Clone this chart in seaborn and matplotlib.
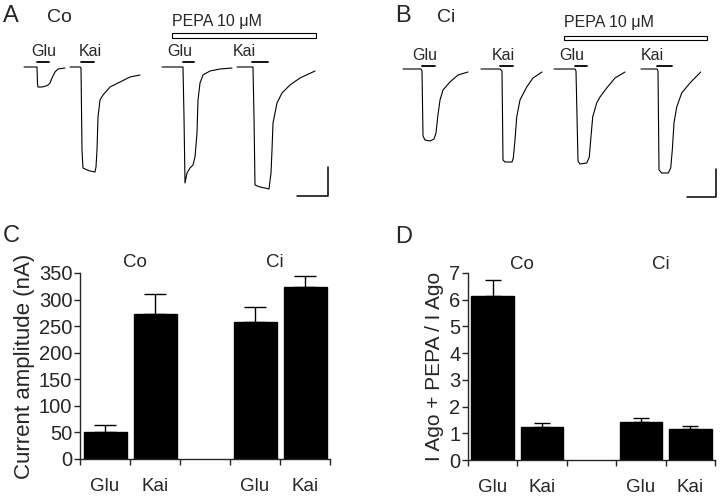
"""
Co / Ci kainate receptor currents with PEPA: traces (A, B) and bar summaries (C, D)
"""
import numpy as np
import pandas as pd
import matplotlib
matplotlib.use('Agg')
import matplotlib.pyplot as plt
from matplotlib.patches import Rectangle
import seaborn as sns

# ==================== 数据 ====================
# A: Co traces, time (s) and current (nA)
a_glu_t = [2.4, 3.7, 3.75, 3.8, 4.2, 4.6, 4.8, 5.0, 5.2, 5.5, 5.8, 6.5]
a_glu_i = [0, 0, -51, -60, -60, -57, -54, -48, -33, -15, -6, -3]
a_kai_t = [7.0, 8.0, 8.1, 8.2, 8.3, 8.5, 9.0, 9.5, 9.6, 9.7, 9.8, 10.0, 10.3, 11.0, 12.0, 13.0, 14.0]
a_kai_i = [0, 0, -3, -250, -303, -306, -312, -315, -300, -249, -150, -99, -84, -60, -45, -30, -24]
a_pglu_t = [16.2, 18.3, 18.4, 18.5, 18.7, 19.0, 19.3, 19.5, 19.7, 19.8, 20.0, 20.3, 21.0, 22.0, 23.2]
a_pglu_i = [0, 0, -150, -348, -318, -303, -294, -270, -198, -99, -48, -24, -12, -6, -3]
a_pkai_t = [23.7, 25.3, 25.4, 25.5, 26.0, 26.5, 26.9, 27.1, 27.2, 27.3, 27.7, 28.2, 29.0, 30.0, 31.5]
a_pkai_i = [0, 0, -150, -354, -360, -363, -366, -318, -249, -168, -108, -78, -54, -33, -12]

# B: Ci traces
b_glu_t = [4.3, 6.1, 6.2, 6.3, 6.35, 6.5, 7.0, 7.4, 7.6, 7.77, 8.0, 8.3, 9.0, 9.8, 10.8]
b_glu_i = [0, 0, -6, -200, -204, -213, -216, -210, -192, -144, -93, -63, -39, -18, -9]
b_kai_t = [12.1, 14.0, 14.2, 14.3, 14.5, 15.0, 15.2, 15.33, 15.5, 15.67, 16.0, 16.67, 17.3, 18.2]
b_kai_i = [0, 0, -6, -273, -279, -279, -279, -267, -213, -144, -93, -54, -27, -9]
b_pglu_t = [19.4, 21.5, 21.6, 21.8, 22.0, 22.67, 22.93, 23.07, 23.27, 23.67, 24.0, 24.67, 25.5, 26.5]
b_pglu_i = [0, 0, -6, -276, -285, -282, -264, -213, -144, -102, -84, -57, -27, -9]
b_pkai_t = [28.1, 29.7, 29.8, 29.9, 30.17, 30.83, 31.07, 31.23, 31.4, 31.67, 32.17, 33.0, 34.07]
b_pkai_i = [0, 0, -6, -303, -312, -312, -297, -243, -162, -114, -72, -42, -9]

# 给药时段 (s)
a_app_on = [3.7, 8.1, 18.3, 25.2]
a_app_off = [4.9, 9.4, 19.4, 26.8]
b_app_on = [6.2, 14.0, 21.5, 29.7]
b_app_off = [7.5, 15.3, 22.7, 31.2]
app_names = ['Glu', 'Kai', 'Glu', 'Kai']
a_label_t = [4.35, 9.0, 17.95, 24.4]
b_label_t = [6.5, 14.3, 21.2, 29.25]
a_pepa = (17.2, 31.6)
b_pepa = (20.4, 34.7)

# C / D: summary bars
slots = ['Co Glu', 'Co Kai', 'Ci Glu', 'Ci Kai']
agonists = ['Glu', 'Kai', 'Glu', 'Kai']
amp_mean = [51, 272, 257, 324]
amp_sem = [13, 39, 29, 21]
ratio_mean = [6.15, 1.25, 1.44, 1.15]
ratio_sem = [0.57, 0.125, 0.12, 0.12]
order = ['Co Glu', 'Co Kai', '', 'Ci Glu', 'Ci Kai']

sns.set_style("ticks")
plt.rcParams['font.family'] = ['Liberation Sans', 'DejaVu Sans']

fig = plt.figure(figsize=(7.2, 4.96), dpi=100)
W, H = 720.0, 496.0

# ==================== A / B traces ====================
def trace_panel(rect, traces, app_on, app_off, label_t, label_i, app_i,
                pepa, pepa_lo, pepa_hi, pepa_text_i, ylim, sbar):
    ax = fig.add_axes(rect)
    rows = []
    for k, (t, i) in enumerate(traces):
        rows += [{'trace': k, 't': tt, 'I': ii} for tt, ii in zip(t, i)]
    df = pd.DataFrame(rows)
    sns.lineplot(data=df, x='t', y='I', units='trace', estimator=None, sort=False,
                 color='black', lw=0.8, ax=ax)
    for on, off, name, lt in zip(app_on, app_off, app_names, label_t):
        ax.plot([on, off], [app_i, app_i], color='black', lw=1.3)
        ax.text(lt, label_i, name, ha='center', va='baseline', fontsize=11.5)
    ax.add_patch(Rectangle((pepa[0], pepa_lo), pepa[1] - pepa[0], pepa_hi - pepa_lo,
                           facecolor='white', edgecolor='black', lw=0.8))
    ax.text(pepa[0], pepa_text_i, 'PEPA 10 μM', ha='left', va='baseline', fontsize=11.5)
    # scale bar
    sx, sy, st, si = sbar
    ax.plot([sx - st, sx, sx], [sy, sy, sy + si], color='black', lw=1.1)
    ax.set_xlim(0, 36)
    ax.set_ylim(*ylim)
    ax.axis('off')
    return ax

trace_panel([0, 1 - 210 / H, 0.5, 210 / H],
            [(a_glu_t, a_glu_i), (a_kai_t, a_kai_i), (a_pglu_t, a_pglu_i), (a_pkai_t, a_pkai_i)],
            a_app_on, a_app_off, a_label_t, 33, 15,
            a_pepa, 87, 102, 123, (-429, 201), (32.8, -387, 3.1, 87))
trace_panel([0.5, 1 - 210 / H, 0.5, 210 / H],
            [(b_glu_t, b_glu_i), (b_kai_t, b_kai_i), (b_pglu_t, b_pglu_i), (b_pkai_t, b_pkai_i)],
            b_app_on, b_app_off, b_label_t, 27, 9,
            b_pepa, 87, 99, 126, (-423, 207), (35.6, -384, 2.9, 84))

# ==================== C / D bars ====================
df_bar = pd.DataFrame({'slot': slots, 'agonist': agonists,
                       'amp': amp_mean, 'amp_sem': amp_sem,
                       'ratio': ratio_mean, 'ratio_sem': ratio_sem})
xpos = [order.index(s) for s in slots]


def bar_panel(rect, col, sem_col, ymax, yticks, ylabel, ylabel_size, capsize, labelpad, grp_y):
    ax = fig.add_axes(rect)
    sns.barplot(data=df_bar, x='slot', y=col, order=order, color='black', saturation=1,
                width=0.86, errorbar=None, edgecolor='black', ax=ax)
    ax.errorbar(xpos, df_bar[col], yerr=[np.zeros(len(xpos)), df_bar[sem_col]],
                fmt='none', ecolor='black', elinewidth=1, capsize=capsize, capthick=1)
    ax.set_xlim(-0.5, 4.5)
    ax.set_ylim(0, ymax)
    ax.set_yticks(yticks)
    ax.set_xticks(np.arange(-0.5, 5, 1.0), labels=[''] * 6)
    ax.set_xticks(xpos, labels=list(df_bar['agonist']), minor=True)
    ax.tick_params(axis='x', which='major', length=4, width=1, direction='out')
    ax.tick_params(axis='x', which='minor', length=0, pad=14, labelsize=13.5)
    ax.tick_params(axis='y', length=4, width=1, direction='out', pad=1.5, labelsize=14.5)
    ax.set_xlabel('')
    ax.set_ylabel(ylabel, fontsize=ylabel_size, labelpad=labelpad)
    for s in ['left', 'bottom']:
        ax.spines[s].set_linewidth(1)
    sns.despine(ax=ax)
    tr = ax.get_xaxis_transform()
    ax.text(0.6, grp_y, 'Co', transform=tr, ha='center', va='baseline', fontsize=13.5)
    ax.text(3.4, grp_y, 'Ci', transform=tr, ha='center', va='baseline', fontsize=13.5)
    return ax

bar_panel([80 / W, 1 - 459 / H, 250 / W, 186 / H], 'amp', 'amp_sem', 350,
          np.arange(0, 351, 50), 'Current amplitude (nA)', 16, 8, 3, 1.032)
bar_panel([468 / W, 1 - 460 / H, 247 / W, 187 / H], 'ratio', 'ratio_sem', 7,
          np.arange(0, 8, 1), 'I Ago + PEPA / I Ago', 15, 5.5, 4, 1.02)

# panel letters
for x, y, s, fs in [(3, 22, 'A', 17), (47, 22, 'Co', 14), (395, 22, 'B', 17), (437, 22, 'Ci', 14),
                    (3, 242, 'C', 17), (395, 243, 'D', 17)]:
    fig.text(x / W, 1 - y / H, s, fontsize=fs, ha='left', va='baseline')

fig.savefig('out.png', dpi=100)
plt.close(fig)
